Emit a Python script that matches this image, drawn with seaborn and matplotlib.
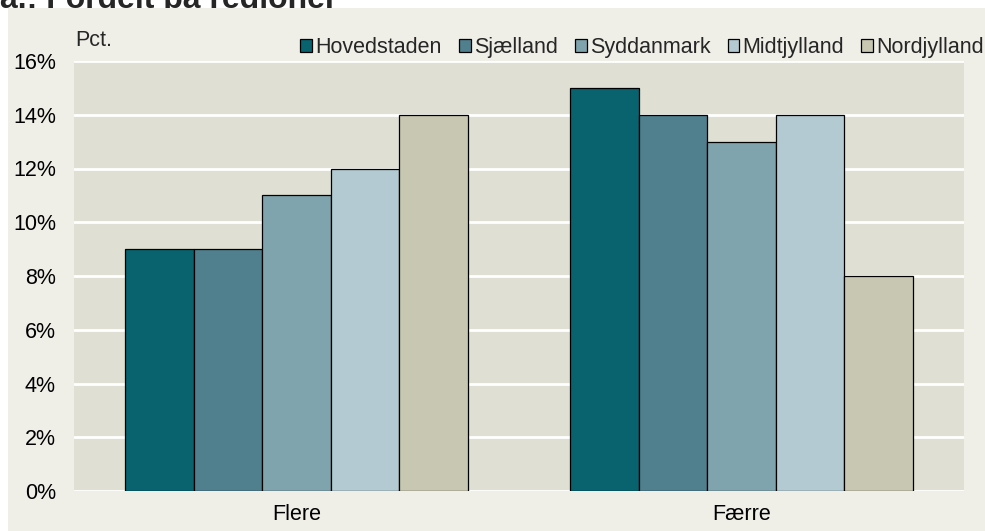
import numpy as np
import pandas as pd
import matplotlib.pyplot as plt
import matplotlib.patches as mpatches
import seaborn as sns

sns.set_style('white')
plt.rcParams['font.family'] = ['Liberation Sans', 'DejaVu Sans']

categories = ['Flere', 'Færre']
regions = ['Hovedstaden', 'Sjælland', 'Syddanmark', 'Midtjylland', 'Nordjylland']
flere = [9, 9, 11, 12, 14]
faerre = [15, 14, 13, 14, 8]
colors = ['#08636f', '#50808e', '#7fa4ad', '#b3cad2', '#c8c7b1']

df = pd.DataFrame({
    'kategori': [categories[0]] * 5 + [categories[1]] * 5,
    'region': regions * 2,
    'pct': flere + faerre,
})

fs = 15.5

fig = plt.figure(figsize=(9.85, 5.31), dpi=100, facecolor='white')
# beige panel; the title sits behind it so only its top strip shows
panel = mpatches.Rectangle((8 / 985, 0), 1, 1 - 8 / 531, transform=fig.transFigure,
                           facecolor='#efeee7', edgecolor='none', zorder=-10)
fig.add_artist(panel)
ax = fig.add_axes([74 / 985, 1 - 491 / 531, 890 / 985, 430 / 531])
ax.set_zorder(1)
ax.set_facecolor('#e0dfd3')

sns.barplot(data=df, x='kategori', y='pct', hue='region', hue_order=regions, order=categories,
            palette=colors, width=0.77, edgecolor='black', linewidth=0.9, saturation=1, ax=ax,
            zorder=3)

ax.set_ylim(0, 16)
ax.set_xlim(-0.5, 1.5)
ax.set_yticks(np.arange(0, 17, 2))
ax.set_yticklabels([f'{v}%' for v in range(0, 17, 2)])
ax.yaxis.grid(True, color='white', linewidth=2, zorder=0)
ax.set_axisbelow(True)
for s in ax.spines.values():
    s.set_visible(False)
ax.tick_params(axis='both', length=0, labelsize=fs, colors='black')
ax.tick_params(axis='y', pad=13)
ax.tick_params(axis='x', pad=9)
ax.set_xlabel('')
ax.set_ylabel('')

handles, labels = ax.get_legend_handles_labels()
ax.legend(handles, labels, loc='lower right', bbox_to_anchor=(1.027, 0.997), ncol=5, frameon=False,
          fontsize=fs, handlelength=0.55, handleheight=0.55, handletextpad=0.14, columnspacing=0.8,
          borderaxespad=0, borderpad=0.2)

fig.text(75 / 985, 1 - 40 / 531, 'Pct.', fontsize=fs, va='center', ha='left')
fig.text(0.0, 1 - 8 / 531, 'a.: Fordelt på regioner', fontsize=23, fontweight='bold',
         va='baseline', ha='left', zorder=-20)

fig.savefig('out.png', dpi=100, facecolor=fig.get_facecolor())
